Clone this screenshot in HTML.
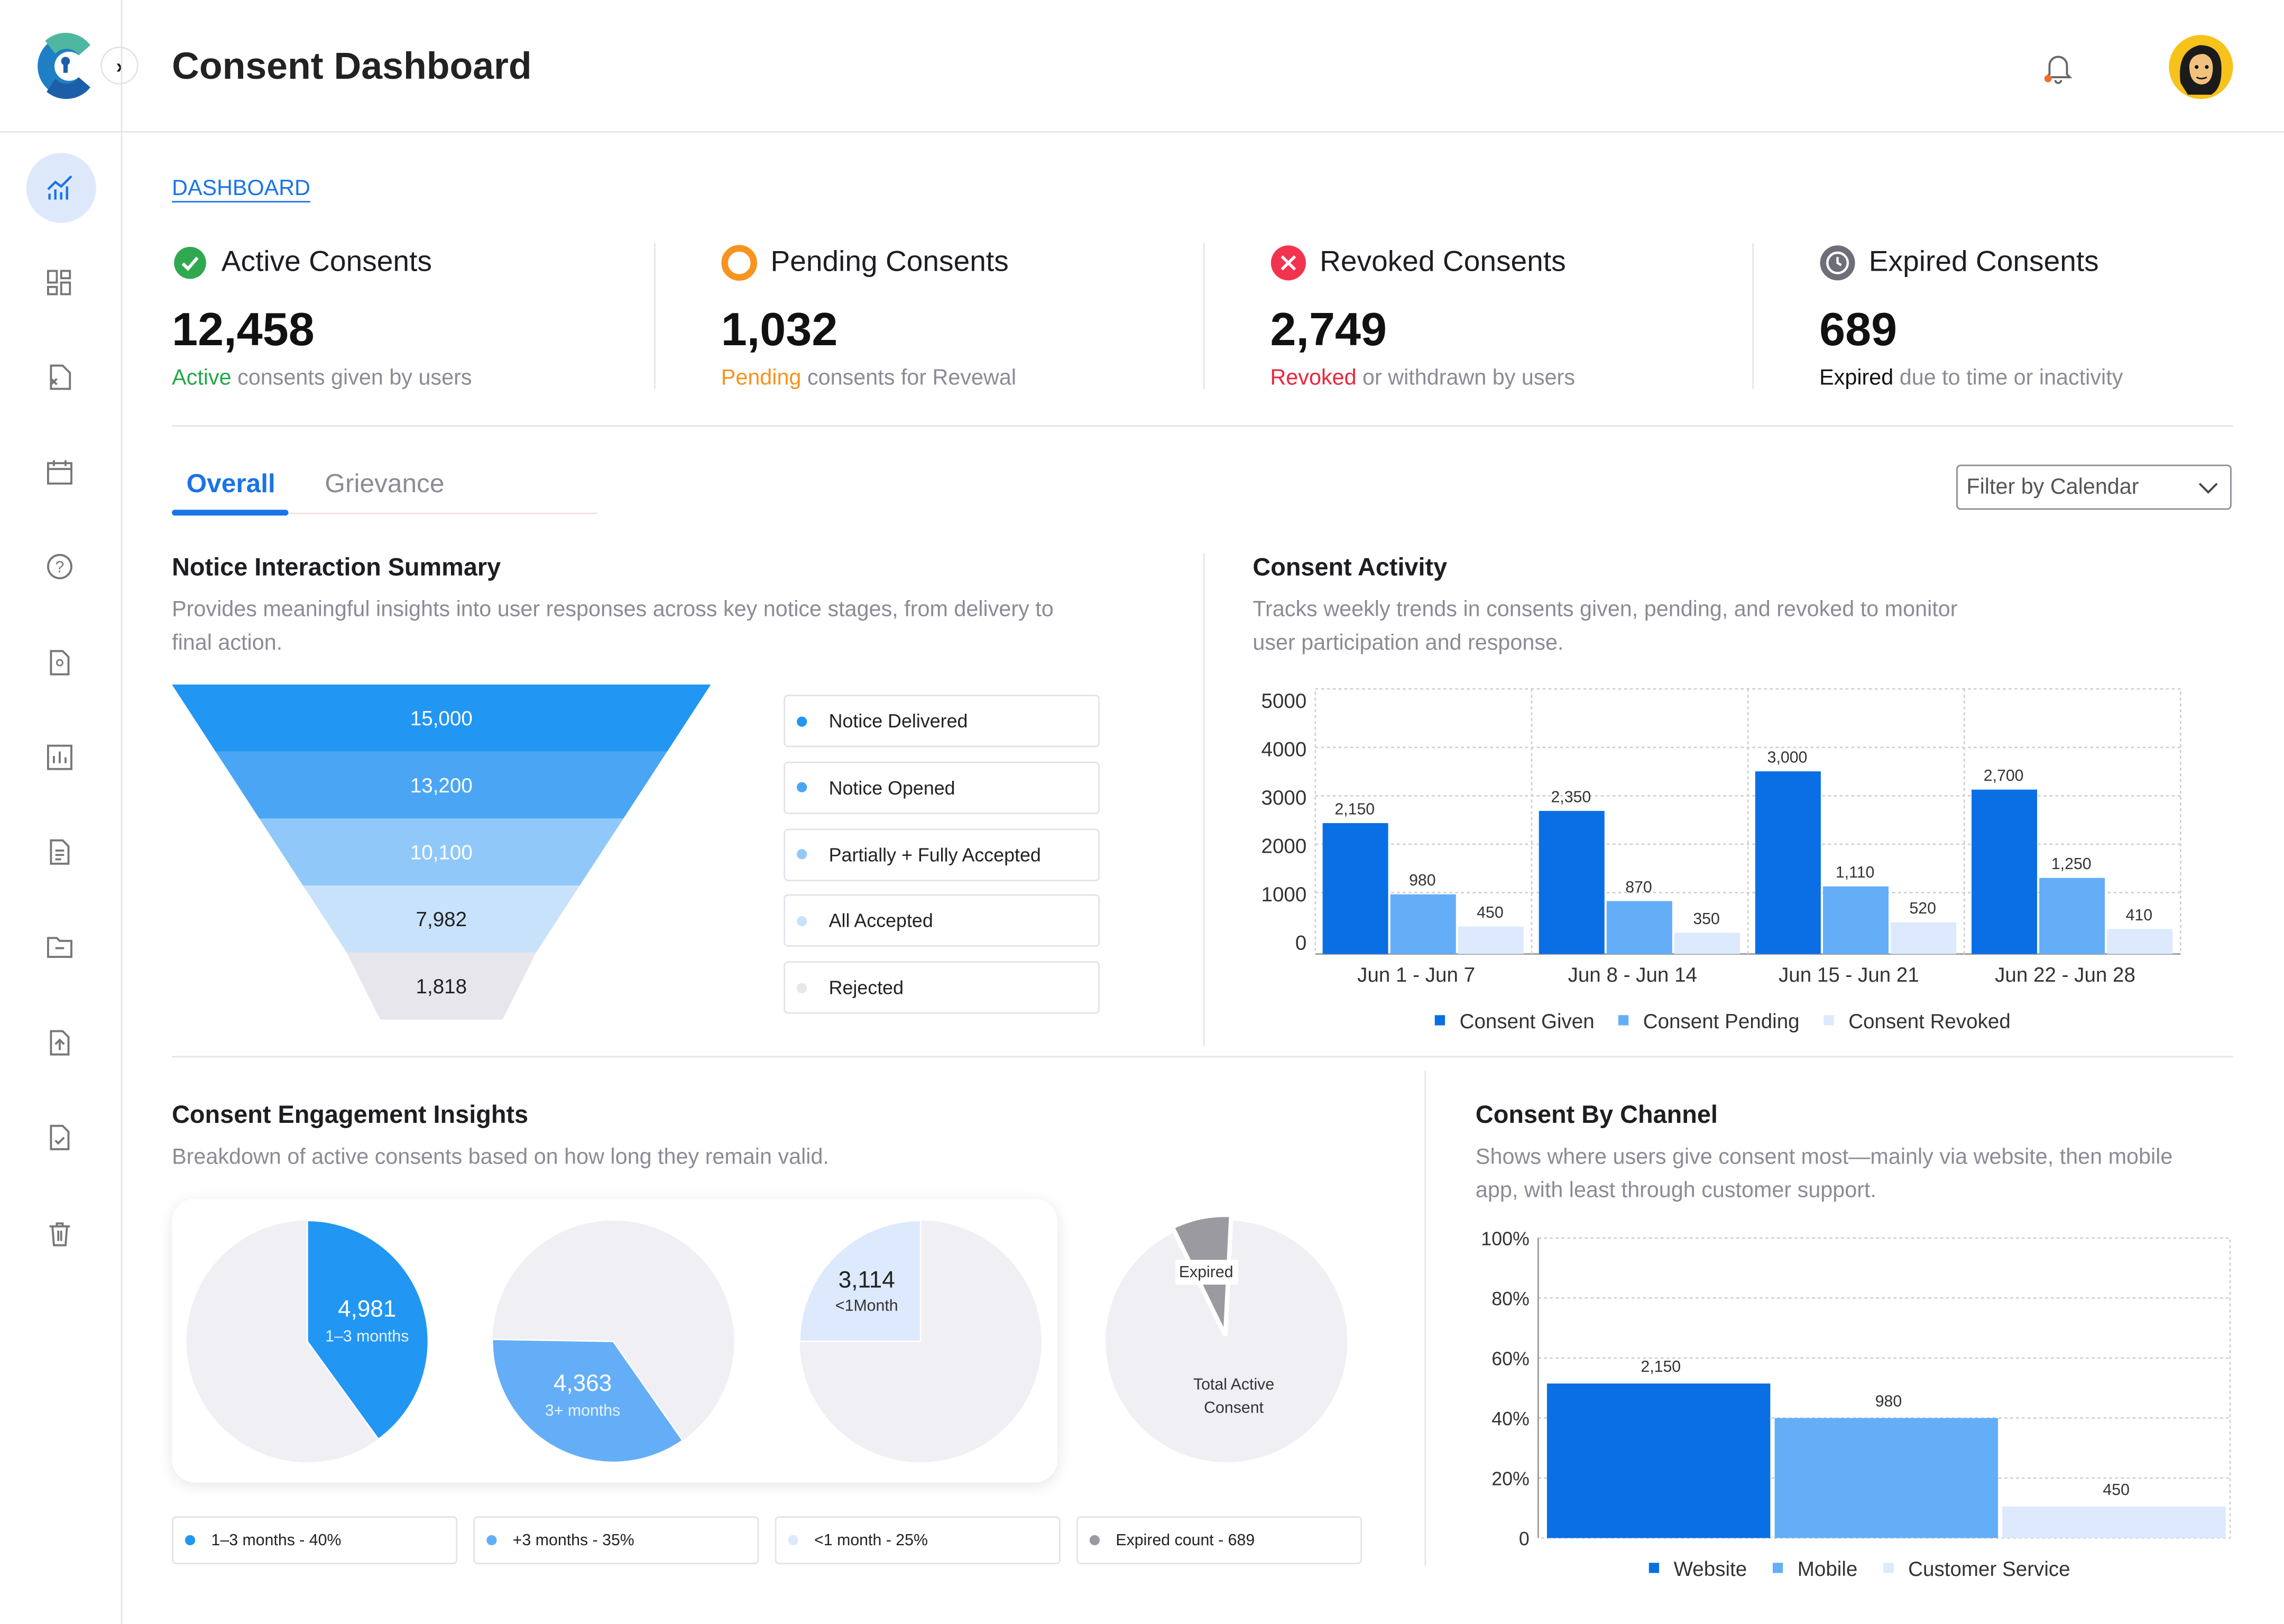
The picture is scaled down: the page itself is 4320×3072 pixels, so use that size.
<!DOCTYPE html>
<html><head><meta charset="utf-8">
<style>
html,body{margin:0;padding:0;background:#fff;}
body{width:4320px;height:3072px;overflow:hidden;font-family:"Liberation Sans",sans-serif;color:#1d1d22;}
#wrap{position:absolute;left:0;top:0;width:1568px;height:1115px;transform:scale(2.7551);transform-origin:0 0;}
.a{position:absolute;white-space:nowrap;line-height:1;}
.hl{position:absolute;background:#e4e4ea;}
.kt{font-size:20px;color:#1d1d22;}
.kv{font-size:32px;font-weight:bold;color:#111;}
.ks{font-size:15px;color:#8b8b96;}
.h2{font-size:17px;font-weight:bold;color:#1d1d22;}
.ds{font-size:15px;color:#8b8b96;line-height:23px;white-space:normal;}
.lb{position:absolute;border:1px solid #e2e2e8;border-radius:3px;background:#fff;box-sizing:border-box;font-size:13px;color:#222;}
.lb i{position:absolute;width:7px;height:7px;border-radius:50%;top:50%;margin-top:-3.5px;left:8px;}
.lb span{position:absolute;left:30px;top:50%;transform:translateY(-50%);white-space:nowrap;}
.si{position:absolute;left:31px;width:20px;height:20px;}
</style></head>
<body>
<div id="wrap">
<!-- header -->
<svg class="a" style="left:22px;top:22px" width="44" height="47" viewBox="0 0 44 47">
<path d="M40 9 A21 21 0 1 0 40 38 L32 31 A10 10 0 1 1 32 16 Z" fill="#1f7fc4"/>
<path d="M40 9 A21 21 0 0 0 9 6 L16 15 A10 10 0 0 1 32 16 Z" fill="#4fb7a0"/>
<path d="M40 38 A21 21 0 0 1 10 41 L16 32 A10 10 0 0 0 32 31 Z" fill="#1c5fa8"/>
<circle cx="23" cy="20" r="3" fill="#1c5fa8"/><rect x="21.5" y="21" width="3" height="7" fill="#1c5fa8"/>
</svg>
<div class="a" style="left:69px;top:32px;width:26px;height:26px;border:1px solid #e2e2e8;border-radius:50%;background:#fff;box-sizing:border-box;text-align:center;line-height:24px;font-size:14px;font-weight:bold">›</div>
<div class="a" style="left:118px;top:32px;font-size:26px;font-weight:bold;color:#222">Consent Dashboard</div>
<svg class="a" style="left:1402px;top:35px" width="22" height="24" viewBox="0 0 22 24"><path d="M5 16 V10 a6 6 0 0 1 12 0 V16 L19 18 H3 Z M9 20 a2 2 0 0 0 4 0" fill="none" stroke="#666" stroke-width="1.4"/><circle cx="4" cy="19" r="2.5" fill="#f26b2a"/></svg>
<svg class="a" style="left:1488px;top:23px" width="46" height="46" viewBox="0 0 46 46"><circle cx="23" cy="23" r="22" fill="#f7c21a"/><path d="M9 34 Q6 12 22 8 Q38 8 37 26 Q37 38 30 42 L14 42 Z" fill="#1b1b1b"/><path d="M15 22 Q16 14 25 14 Q32 16 31 26 Q30 35 23 35 Q15 34 15 22Z" fill="#f1c27d"/><circle cx="20" cy="23" r="1.3" fill="#111"/><circle cx="27" cy="23" r="1.3" fill="#111"/><path d="M20 30 Q23 32 27 30" fill="none" stroke="#111" stroke-width="1"/></svg>
<div class="hl" style="left:0;top:90px;width:1568px;height:1px"></div>
<div class="hl" style="left:83px;top:0;width:1px;height:1115px"></div>
<!-- sidebar -->
<div class="a" style="left:18px;top:105px;width:48px;height:48px;border-radius:50%;background:#dde9fb"></div>
<svg class="si" style="top:119px" viewBox="0 0 20 20"><path d="M2 11 L7 6 L11 9 L18 2" fill="none" stroke="#1a73e8" stroke-width="1.6"/><path d="M3 18V14M7 18V11M11 18V13M15 18V9" stroke="#1a73e8" stroke-width="1.6"/></svg>
<svg class="si" style="top:184px" viewBox="0 0 20 20"><g fill="none" stroke="#777" stroke-width="1.4"><rect x="2" y="2" width="6" height="8"/><rect x="11" y="2" width="6" height="5"/><rect x="2" y="13" width="6" height="5"/><rect x="11" y="10" width="6" height="8"/></g></svg>
<svg class="si" style="top:249px" viewBox="0 0 20 20"><path d="M4 2H12L17 7V18H4Z M4 11 L8 15 M8 11 L4 15" fill="none" stroke="#777" stroke-width="1.4"/></svg>
<svg class="si" style="top:314px" viewBox="0 0 20 20"><rect x="2" y="4" width="16" height="14" fill="none" stroke="#777" stroke-width="1.4"/><path d="M6 2V6M14 2V6M2 8H18" stroke="#777" stroke-width="1.4"/></svg>
<svg class="si" style="top:379px" viewBox="0 0 20 20"><circle cx="10" cy="10" r="8" fill="none" stroke="#777" stroke-width="1.4"/><text x="10" y="14" font-size="11" text-anchor="middle" fill="#777">?</text></svg>
<svg class="si" style="top:445px" viewBox="0 0 20 20"><path d="M4 2H12L16 6V18H4Z" fill="none" stroke="#777" stroke-width="1.4"/><circle cx="10" cy="10" r="2" fill="none" stroke="#777"/></svg>
<svg class="si" style="top:510px" viewBox="0 0 20 20"><rect x="2" y="2" width="16" height="16" fill="none" stroke="#777" stroke-width="1.4"/><path d="M6 14V9M10 14V6M14 14V10" stroke="#777" stroke-width="1.4"/></svg>
<svg class="si" style="top:575px" viewBox="0 0 20 20"><path d="M4 2H12L16 6V18H4Z M7 9H13M7 12H13M7 15H11" fill="none" stroke="#777" stroke-width="1.4"/></svg>
<svg class="si" style="top:640px" viewBox="0 0 20 20"><path d="M2 4H8L10 6H18V17H2Z M7 11H13" fill="none" stroke="#777" stroke-width="1.4"/></svg>
<svg class="si" style="top:706px" viewBox="0 0 20 20"><path d="M4 2H12L16 6V18H4Z M10 15V9M7 11L10 8L13 11" fill="none" stroke="#777" stroke-width="1.4"/></svg>
<svg class="si" style="top:771px" viewBox="0 0 20 20"><path d="M4 2H12L16 6V18H4Z M7 12L9 14L13 10" fill="none" stroke="#777" stroke-width="1.4"/></svg>
<svg class="si" style="top:837px" viewBox="0 0 20 20"><path d="M3 5H17M8 5V3H12V5M5 5L6 18H14L15 5M9 8V15M11 8V15" fill="none" stroke="#777" stroke-width="1.4"/></svg>

<div class="a" style="left:118px;top:122px;font-size:15px;color:#1a73e8;border-bottom:1.5px solid #1a73e8;padding-bottom:1px">DASHBOARD</div>

<!-- KPIs -->
<svg class="a" style="left:119px;top:169px" width="23" height="23"><circle cx="11.5" cy="11.5" r="11" fill="#2fa84f"/><path d="M6.5 12 L10 15.5 L16.5 8" fill="none" stroke="#fff" stroke-width="2.2"/></svg>
<div class="a kt" style="left:152px;top:170px">Active Consents</div>
<div class="a kv" style="left:118px;top:210px">12,458</div>
<div class="a ks" style="left:118px;top:252px"><span style="color:#22a84a">Active</span> consents given by users</div>
<div class="hl" style="left:449px;top:167px;width:1px;height:100px"></div>
<svg class="a" style="left:495px;top:168px" width="25" height="25"><circle cx="12.5" cy="12.5" r="10" fill="none" stroke="#f7931e" stroke-width="4.5"/></svg>
<div class="a kt" style="left:529px;top:170px">Pending Consents</div>
<div class="a kv" style="left:495px;top:210px">1,032</div>
<div class="a ks" style="left:495px;top:252px"><span style="color:#f7931e">Pending</span> consents for Revewal</div>
<div class="hl" style="left:826px;top:167px;width:1px;height:100px"></div>
<svg class="a" style="left:872px;top:168px" width="25" height="25"><circle cx="12.5" cy="12.5" r="12" fill="#f2334f"/><path d="M8 8 L17 17 M17 8 L8 17" stroke="#fff" stroke-width="2"/></svg>
<div class="a kt" style="left:906px;top:170px">Revoked Consents</div>
<div class="a kv" style="left:872px;top:210px">2,749</div>
<div class="a ks" style="left:872px;top:252px"><span style="color:#e8263d">Revoked</span> or withdrawn by users</div>
<div class="hl" style="left:1203px;top:167px;width:1px;height:100px"></div>
<svg class="a" style="left:1249px;top:168px" width="25" height="25"><circle cx="12.5" cy="12.5" r="12" fill="#6e6e78"/><circle cx="12.5" cy="12.5" r="7" fill="none" stroke="#fff" stroke-width="1.6"/><path d="M12.5 8.5V12.5L15 14" fill="none" stroke="#fff" stroke-width="1.6"/></svg>
<div class="a kt" style="left:1283px;top:170px">Expired Consents</div>
<div class="a kv" style="left:1249px;top:210px">689</div>
<div class="a ks" style="left:1249px;top:252px"><span style="color:#111">Expired</span> due to time or inactivity</div>
<div class="hl" style="left:118px;top:292px;width:1415px;height:1px"></div>

<!-- tabs -->
<div class="a" style="left:128px;top:323px;font-size:18px;font-weight:bold;color:#1a73e8">Overall</div>
<div class="a" style="left:223px;top:323px;font-size:18px;color:#8b8b96">Grievance</div>
<div class="hl" style="left:118px;top:352px;width:292px;height:1px;background:#f3dede"></div>
<div class="a" style="left:118px;top:350px;width:80px;height:4px;background:#1a73e8;border-radius:2px"></div>
<div class="a" style="left:1343px;top:319px;width:189px;height:31px;border:1px solid #8b8b96;border-radius:3px;box-sizing:border-box"><span class="a" style="left:6px;top:7px;font-size:15px;color:#555">Filter by Calendar</span><svg class="a" style="left:165px;top:10px" width="14" height="10"><path d="M1 2 L7 8 L13 2" fill="none" stroke="#444" stroke-width="1.4"/></svg></div>

<!-- notice interaction -->
<div class="a h2" style="left:118px;top:381px">Notice Interaction Summary</div>
<div class="a ds" style="left:118px;top:407px;width:630px">Provides meaningful insights into user responses across key notice stages, from delivery to final action.</div>
<svg id="funnel" class="a" style="left:0;top:0" width="800" height="720"></svg>
<div id="funnelLegend"></div>
<div class="hl" style="left:826px;top:380px;width:1px;height:338px"></div>

<!-- consent activity -->
<div class="a h2" style="left:860px;top:381px">Consent Activity</div>
<div class="a ds" style="left:860px;top:407px;width:500px">Tracks weekly trends in consents given, pending, and revoked to monitor user participation and response.</div>
<svg id="activity" class="a" style="left:0;top:0" width="1568" height="720"></svg>
<div class="hl" style="left:118px;top:725px;width:1415px;height:1px"></div>

<!-- engagement -->
<div class="a h2" style="left:118px;top:757px">Consent Engagement Insights</div>
<div class="a ds" style="left:118px;top:783px">Breakdown of active consents based on how long they remain valid.</div>
<div class="a" style="left:118px;top:823px;width:608px;height:195px;border-radius:16px;background:#fff;box-shadow:0 2px 10px rgba(0,0,0,0.10)"></div>
<svg id="pies" class="a" style="left:0;top:0" width="980" height="1115"></svg>
<div id="pieLegend"></div>
<div class="hl" style="left:978px;top:735px;width:1px;height:340px"></div>

<!-- channel -->
<div class="a h2" style="left:1013px;top:757px">Consent By Channel</div>
<div class="a ds" style="left:1013px;top:783px;width:495px">Shows where users give consent most—mainly via website, then mobile app, with least through customer support.</div>
<svg id="channel" class="a" style="left:0;top:0" width="1568" height="1115"></svg>
</div>

<script>
// ---------- data ----------
const funnelStages = ["Notice Delivered","Notice Opened","Partially + Fully Accepted","All Accepted","Rejected"];
const funnelValues = [15000,13200,10100,7982,1818];
const activityWeeks = ["Jun 1 - Jun 7","Jun 8 - Jun 14","Jun 15 - Jun 21","Jun 22 - Jun 28"];
const activityGiven = [2150,2350,3000,2700];
const activityPending = [980,870,1110,1250];
const activityRevoked = [450,350,520,410];
const activityTicks = [0,1000,2000,3000,4000,5000];
const activitySeries = ["Consent Given","Consent Pending","Consent Revoked"];
const pieLabels = ["1–3 months","3+ months","<1Month","Expired"];
const pieValues = [4981,4363,3114,689];
const piePercents = [40,35,25,8];
const pieLegendText = ["1–3 months - 40%","+3 months - 35%","<1 month - 25%","Expired count - 689"];
const channelNames = ["Website","Mobile","Customer Service"];
const channelPercents = [51.5,40,10.5];
const channelCounts = ["2,150","980","450"];
const channelTicks = [0,20,40,60,80,100];

const NS="http://www.w3.org/2000/svg";
function mk(svg,tag,attrs,text){const e=document.createElementNS(NS,tag);for(const k in attrs)e.setAttribute(k,attrs[k]);if(text!==undefined)e.textContent=text;svg.appendChild(e);return e;}
const fmt=v=>v.toLocaleString('en-US');

// ---------- funnel ----------
(function(){
  const svg=document.getElementById('funnel');
  const colors=["#2196f3","#4aa6f5","#90c9f9","#c9e2fb","#e6e6ec"];
  const txt=["#fff","#fff","#fff","#222","#222"];
  const top=470,h=46,cx=303,maxW=370;
  const fx=v=>v/funnelValues[0]*maxW/2;
  for(let i=0;i<funnelValues.length;i++){
    const y0=top+i*h,y1=y0+h;
    const w0=i===0?fx(funnelValues[0]):fx(funnelValues[0])-30*i;
    let w1=fx(funnelValues[0])-30*(i+1);
    if(i===funnelValues.length-1) w1=42;
    const p=mk(svg,'polygon',{points:`${cx-w0},${y0} ${cx+w0},${y0} ${cx+w1},${y1} ${cx-w1},${y1}`,fill:colors[i]});
    
    
    const t=mk(svg,'text',{x:cx,y:y0+h/2+5,'text-anchor':'middle','font-size':14,fill:txt[i],'font-family':'Liberation Sans'},fmt(funnelValues[i]));
    
    
  }
  const lg=document.getElementById('funnelLegend');
  funnelStages.forEach((s,i)=>{
    const d=document.createElement('div');d.className='lb';
    d.style.cssText=`left:538px;top:${477+i*45.8}px;width:217px;height:36px`;
    d.innerHTML=`<i style="background:${colors[i]}"></i><span>${s}</span>`;
    
    
    lg.appendChild(d);
  });
})();

// ---------- activity ----------
(function(){
  const svg=document.getElementById('activity');
  const L=903,R=1497,T=473,B=655,zero=655,k=0.0418;
  const gy=v=>647-v/5000*166;
  const by=v=>zero-v*k;
  mk(svg,'rect',{x:L,y:T,width:R-L,height:B-T,fill:'none',stroke:'#cfcfd6','stroke-dasharray':'2,2'});
  activityTicks.forEach(v=>{
    if(v>0&&v<5000) mk(svg,'line',{x1:L,x2:R,y1:gy(v)-1,y2:gy(v)-1,stroke:'#cfcfd6','stroke-dasharray':'2,2'});
    const t=mk(svg,'text',{x:897,y:gy(v)+5,'text-anchor':'end','font-size':14,fill:'#333','font-family':'Liberation Sans'},v);
    
    
  });
  mk(svg,'line',{x1:L,x2:R,y1:B,y2:B,stroke:'#999'});
  const gw=(R-L)/activityWeeks.length;
  const cols=["#0a6fe4","#64aef8","#dde9fc"];
  const series=[activityGiven,activityPending,activityRevoked];
  activityWeeks.forEach((w,g)=>{
    if(g>0) mk(svg,'line',{x1:L+g*gw,x2:L+g*gw,y1:T,y2:B,stroke:'#cfcfd6','stroke-dasharray':'2,2'});
    series.forEach((s,si)=>{
      const x=L+g*gw+5+si*46.5;
      const r=mk(svg,'rect',{x:x,y:by(s[g]),width:45,height:zero-by(s[g]),fill:cols[si]});
      
      
      mk(svg,'text',{x:x+22,y:by(s[g])-6,'text-anchor':'middle','font-size':11,fill:'#333','font-family':'Liberation Sans'},fmt(s[g]));
    });
    const t=mk(svg,'text',{x:L+g*gw+gw/2-5,y:674,'text-anchor':'middle','font-size':14,fill:'#333','font-family':'Liberation Sans'},w);
    
    
  });
  const lx=[985,1111,1252];
  activitySeries.forEach((s,i)=>{
    const r=mk(svg,'rect',{x:lx[i],y:697,width:7,height:7,fill:cols[i]});
    
    
    const t=mk(svg,'text',{x:lx[i]+17,y:706,'font-size':14,fill:'#333','font-family':'Liberation Sans'},s);
    
    
  });
})();

// ---------- pies ----------
(function(){
  const svg=document.getElementById('pies');
  const centers=[[211,921],[421,921],[632,921],[842,921]];
  const starts=[0,145,270,334];
  const cols=["#2196f3","#64aef8","#dde9fc","#9b9aa0"];
  const R=83;
  const pt=(cx,cy,r,a)=>[cx+r*Math.sin(a*Math.PI/180),cy-r*Math.cos(a*Math.PI/180)];
  centers.forEach((c,i)=>{
    const bg=mk(svg,'circle',{cx:c[0],cy:c[1],r:R,fill:'#f0eff4'});
    
    
    const sweep=piePercents[i]*3.6;
    const a0=starts[i],a1=a0+sweep;
    let cx=c[0],cy=c[1];
    if(i===3){const m=pt(0,0,4,(a0+a1)/2);cx+=m[0];cy+=m[1];}
    const p0=pt(cx,cy,R,a0),p1=pt(cx,cy,R,a1);
    const path=mk(svg,'path',{d:`M${cx},${cy} L${p0[0]},${p0[1]} A${R},${R} 0 ${sweep>180?1:0} 1 ${p1[0]},${p1[1]} Z`,fill:cols[i],stroke:'#fff','stroke-width':i===3?3:1});
    
    
  });
  const T=(x,y,s,txt,col)=>mk(svg,'text',{x:x,y:y,'text-anchor':'middle','font-size':s,fill:col,'font-family':'Liberation Sans'},txt);
  T(252,904,16,fmt(pieValues[0]),'#fff');T(252,921,11,pieLabels[0],'#e8f2fe');
  T(400,955,16,fmt(pieValues[1]),'#fff');T(400,972,11,pieLabels[1],'#e8f2fe');
  T(595,884,16,fmt(pieValues[2]),'#222');T(595,900,11,pieLabels[2],'#333');
  mk(svg,'rect',{x:807,y:865,width:43,height:17,fill:'#fff'});
  T(828,877,11,pieLabels[3],'#333');
  T(847,954,11,'Total Active','#333');T(847,970,11,'Consent','#333');
  const lg=document.getElementById('pieLegend');
  pieLegendText.forEach((s,i)=>{
    const d=document.createElement('div');d.className='lb';
    d.style.cssText=`left:${118+i*207}px;top:1041px;width:196px;height:33px;font-size:11px`;
    d.innerHTML=`<i style="background:${cols[i]}"></i><span style="left:26px">${s}</span>`;
    
    
    lg.appendChild(d);
  });
})();

// ---------- channel ----------
(function(){
  const svg=document.getElementById('channel');
  const L=1056,R=1531,T=850,B=1056;
  const y=v=>B-v/100*(B-T);
  mk(svg,'rect',{x:L,y:T,width:R-L,height:B-T,fill:'none',stroke:'#cfcfd6','stroke-dasharray':'2,2'});
  channelTicks.forEach(v=>{
    if(v>0&&v<100) mk(svg,'line',{x1:L,x2:R,y1:y(v),y2:y(v),stroke:'#cfcfd6','stroke-dasharray':'2,2'});
    const t=mk(svg,'text',{x:1050,y:y(v)+5,'text-anchor':'end','font-size':13,fill:'#333','font-family':'Liberation Sans'},v===0?'0':v+'%');
    
    
  });
  mk(svg,'line',{x1:L,x2:L,y1:T,y2:B,stroke:'#999'});
  const cols=["#0a6fe4","#64aef8","#dde9fc"];
  const bw=(R-L-6)/channelNames.length;
  channelNames.forEach((n,i)=>{
    const x=L+6+i*bw;
    const r=mk(svg,'rect',{x:x,y:y(channelPercents[i]),width:bw-3,height:B-y(channelPercents[i]),fill:cols[i]});
    
    
    mk(svg,'text',{x:x+bw*0.5,y:y(channelPercents[i])-8,'text-anchor':'middle','font-size':11,fill:'#333','font-family':'Liberation Sans'},channelCounts[i]);
  });
  const lx=[1132,1217,1293];
  channelNames.forEach((n,i)=>{
    mk(svg,'rect',{x:lx[i],y:1073,width:7,height:7,fill:cols[i]});
    const t=mk(svg,'text',{x:lx[i]+17,y:1082,'font-size':14,fill:'#333','font-family':'Liberation Sans'},n);
    
    
  });
})();
</script>
</body></html>
